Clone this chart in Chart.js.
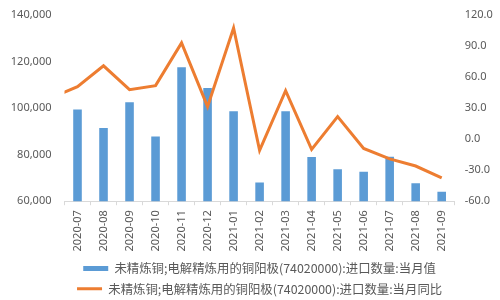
<!DOCTYPE html>
<html>
<head>
<meta charset="utf-8">
<script src="https://cdn.jsdelivr.net/npm/chart.js@4/dist/chart.umd.min.js"></script>
<style>
  html, body { margin: 0; padding: 0; background: #ffffff; overflow: hidden; }
  #wrap { width: 500px; height: 300px; overflow: hidden; }
</style>
</head>
<body>
<div id="wrap"><canvas id="c" width="500" height="305"></canvas></div>
<script>
// Categories (2020-06 is only partly visible: the line enters from the left edge)
const categories = ['2020-06', '2020-07', '2020-08', '2020-09', '2020-10', '2020-11', '2020-12',
  '2021-01', '2021-02', '2021-03', '2021-04', '2021-05', '2021-06', '2021-07', '2021-08', '2021-09'];
const firstVisible = '2020-07';

// 进口数量:当月值 (left axis)
const monthlyValue = [null, 99400, 91500, 102500, 87800, 117600, 108600,
  98700, 68000, 98700, 78950, 73700, 72700, 79100, 67700, 64100];

// 进口数量:当月同比 (right axis, %)
const monthlyYoY = [40.0, 50.7, 70.9, 47.8, 51.7, 93.0, 31.4,
  107.5, -10.9, 46.8, -10.0, 21.8, -9.0, -19.1, -26.0, -37.4];

const seriesNames = [
  '未精炼铜;电解精炼用的铜阳极(74020000):进口数量:当月值',
  '未精炼铜;电解精炼用的铜阳极(74020000):进口数量:当月同比'
];

const leftTicks = { min: 60000, max: 140000, step: 20000 };
const rightTicks = { min: -60, max: 120, step: 30 };

const textColor = '#595959';
const numFont = { family: "'Noto Sans', 'Liberation Sans', sans-serif", size: 11 };

new Chart(document.getElementById('c'), {
  type: 'bar',
  data: {
    labels: categories,
    datasets: [
      {
        type: 'bar',
        label: seriesNames[0],
        data: monthlyValue,
        backgroundColor: '#5B9BD5',
        borderWidth: 0,
        barPercentage: 0.33,
        categoryPercentage: 1.0,
        yAxisID: 'y',
        order: 1,
        pointStyle: 'rect'
      },
      {
        type: 'line',
        label: seriesNames[1],
        data: monthlyYoY,
        borderColor: '#ED7D31',
        backgroundColor: '#ED7D31',
        borderWidth: 3,
        pointRadius: 0,
        tension: 0,
        yAxisID: 'y1',
        order: 0,
        clip: 0,
        pointStyle: 'line'
      }
    ]
  },
  options: {
    responsive: false,
    animation: false,
    devicePixelRatio: 1,
    layout: { padding: { top: 15, left: 0, right: 0, bottom: 0 } },
    plugins: {
      tooltip: { enabled: false },
      legend: {
        position: 'bottom',
        fullSize: false,
        align: 'center',
        labels: {
          color: textColor,
          font: { family: "'Noto Sans CJK SC', 'Noto Sans', sans-serif", size: 12.4 },
          usePointStyle: true,
          pointStyleWidth: 25,
          boxHeight: 5,
          padding: 8,
          sort: (a, b) => a.datasetIndex - b.datasetIndex
        }
      }
    },
    scales: {
      x: {
        type: 'category',
        min: firstVisible,
        offset: true,
        border: { display: true, color: '#d9d9d9', width: 1 },
        grid: { display: true, drawOnChartArea: false, offset: true, tickLength: 4, color: '#d9d9d9' },
        ticks: {
          color: textColor,
          font: numFont,
          minRotation: 90,
          maxRotation: 90,
          autoSkip: false,
          padding: 5
        },
        afterFit: (s) => { s.height = 53; }
      },
      y: {
        position: 'left',
        min: leftTicks.min,
        max: leftTicks.max,
        border: { display: false },
        grid: { display: false, drawTicks: false },
        ticks: {
          stepSize: leftTicks.step,
          color: textColor,
          font: numFont,
          padding: 13,
          callback: (v) => v.toLocaleString('en-US')
        },
        afterFit: (s) => { s.width = 64.5; s.paddingTop = 0; s.paddingBottom = 0; }
      },
      y1: {
        position: 'right',
        min: rightTicks.min,
        max: rightTicks.max,
        border: { display: false },
        grid: { display: false, drawTicks: false },
        ticks: {
          stepSize: rightTicks.step,
          color: textColor,
          font: numFont,
          padding: 10,
          callback: (v) => Number(v).toFixed(1)
        },
        afterFit: (s) => { s.width = 45.3; s.paddingTop = 0; s.paddingBottom = 0; }
      }
    }
  }
});
</script>
</body>
</html>
